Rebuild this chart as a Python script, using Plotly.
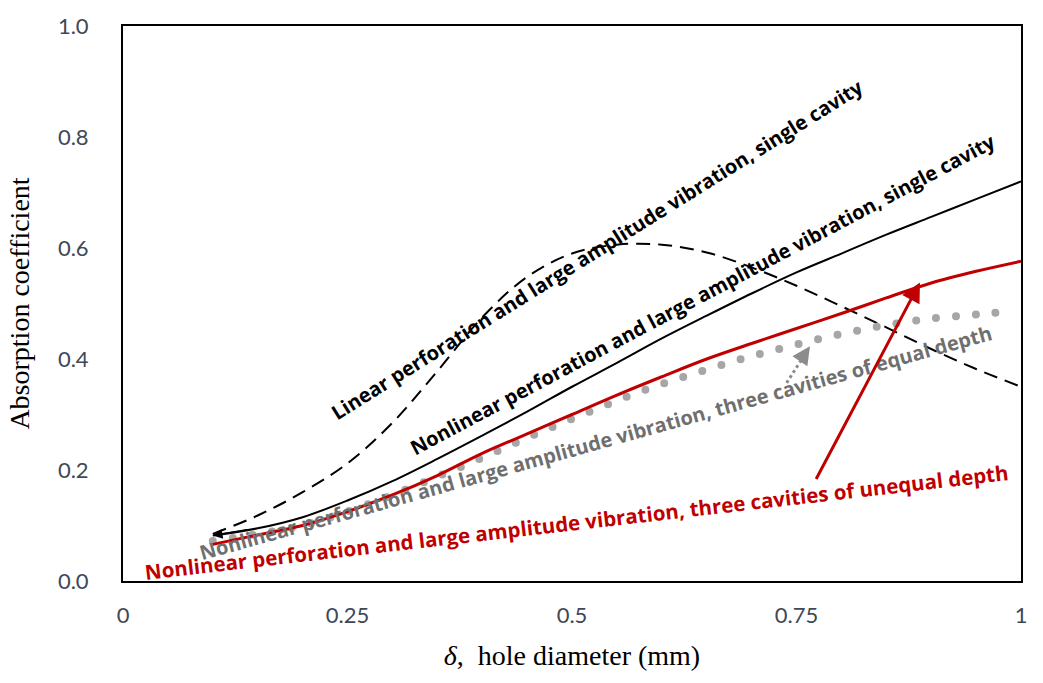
import plotly.graph_objects as go

# hole diameter (mm)
x_main = [0.1, 0.15, 0.2, 0.25, 0.3, 0.35, 0.4, 0.45, 0.5, 0.55, 0.6, 0.65,
          0.7, 0.75, 0.8, 0.85, 0.9, 0.95, 1.0]

# absorption coefficient for each configuration
linear_single = [0.085, 0.118, 0.16, 0.212, 0.285, 0.378, 0.475, 0.548, 0.59,
                 0.606, 0.606, 0.592, 0.565, 0.532, 0.495, 0.457, 0.418, 0.382, 0.35]
nonlinear_single = [0.082, 0.095, 0.115, 0.145, 0.18, 0.22, 0.262, 0.305, 0.35,
                    0.393, 0.437, 0.478, 0.518, 0.556, 0.59, 0.624, 0.656, 0.688, 0.72]
nonlinear_unequal = [0.066, 0.083, 0.10, 0.125, 0.155, 0.19, 0.23, 0.265, 0.30,
                     0.335, 0.368, 0.40, 0.428, 0.455, 0.482, 0.51, 0.537, 0.558, 0.576]

x_equal = [0.1, 0.15, 0.2, 0.25, 0.3, 0.35, 0.4, 0.45, 0.5, 0.55, 0.6, 0.65,
           0.7, 0.75, 0.8, 0.85, 0.9, 0.95, 0.98]
nonlinear_equal = [0.072, 0.085, 0.10, 0.125, 0.155, 0.188, 0.222, 0.258, 0.292,
                   0.325, 0.355, 0.381, 0.405, 0.426, 0.445, 0.461, 0.473, 0.48, 0.485]

x_ticks = [0, 0.25, 0.5, 0.75, 1]
x_tick_text = ["0", "0.25", "0.5", "0.75", "1"]
y_ticks = [0.0, 0.2, 0.4, 0.6, 0.8, 1.0]
y_tick_text = ["0.0", "0.2", "0.4", "0.6", "0.8", "1.0"]

RED = "#c00000"
GRAY_DOT = "#a6a6a6"
GRAY_TXT = "#6f6f6f"
TICK = "#404858"

fig = go.Figure()
fig.add_trace(go.Scatter(x=x_main, y=linear_single, mode="lines",
                         line=dict(color="black", width=2, dash="14px,8px", shape="spline"),
                         name="linear single"))
fig.add_trace(go.Scatter(x=x_main, y=nonlinear_single, mode="lines",
                         line=dict(color="black", width=2, shape="spline"),
                         name="nonlinear single"))
fig.add_trace(go.Scatter(x=x_equal, y=nonlinear_equal, mode="lines",
                         line=dict(color=GRAY_DOT, width=8, dash="0px,20px", shape="spline"),
                         name="nonlinear equal"))
fig.add_trace(go.Scatter(x=x_main, y=nonlinear_unequal, mode="lines",
                         line=dict(color=RED, width=3, shape="spline"),
                         name="nonlinear unequal"))

label_font = "'Open Sans', sans-serif"
tick_font = "Lato, 'Open Sans', sans-serif"


def rotated_label(text, x, y, angle, color, size=20):
    fig.add_annotation(
        x=x, y=y, xref="x", yref="y", text=f"<b>{text}</b>",
        showarrow=False, textangle=-angle,
        font=dict(family=label_font, size=size, color=color),
        xanchor="center", yanchor="middle")


rotated_label("Linear perforation and large amplitude vibration, single cavity",
              0.528, 0.597, 32, "black")
rotated_label("Nonlinear perforation and large amplitude vibration, single cavity",
              0.645, 0.517, 28, "black")
rotated_label("Nonlinear perforation and large amplitude vibration, three cavities of equal depth",
              0.527, 0.249, 15.6, GRAY_TXT)
rotated_label("Nonlinear perforation and large amplitude vibration, three cavities of unequal depth",
              0.505, 0.107, 6.6, RED, size=20.5)

# pointer arrows
fig.add_annotation(x=0.8875, y=0.538, ax=0.771, ay=0.181, xref="x", yref="y",
                   axref="x", ayref="y", text="", showarrow=True,
                   arrowhead=2, arrowsize=1.3, arrowwidth=3, arrowcolor=RED)
fig.add_shape(type="line", x0=0.739, y0=0.357, x1=0.760, y1=0.410, xref="x", yref="y",
              line=dict(color="#8c8c8c", width=3, dash="dot"))
fig.add_annotation(x=0.765, y=0.423, ax=0.755, ay=0.399, xref="x", yref="y",
                   axref="x", ayref="y", text="", showarrow=True,
                   arrowhead=2, arrowsize=1.2, arrowwidth=3, arrowcolor="#8c8c8c")
fig.add_annotation(x=0.1, y=0.082, ax=0.14, ay=0.093, xref="x", yref="y",
                   axref="x", ayref="y", text="", showarrow=True,
                   arrowhead=2, arrowsize=1.3, arrowwidth=1.5, arrowcolor="black")

axis_common = dict(showline=True, linecolor="black", linewidth=2, mirror=True,
                   showgrid=False, zeroline=False, ticks="",
                   tickfont=dict(family=tick_font, size=22, color=TICK))

fig.update_xaxes(range=[0, 1], tickvals=x_ticks, ticktext=x_tick_text,
                 ticklabelstandoff=14,
                 title=dict(text="<i>δ</i>,  hole diameter (mm)", standoff=18,
                            font=dict(family="Liberation Serif, serif", size=28, color="black")),
                 **axis_common)
fig.update_yaxes(range=[0, 1], tickvals=y_ticks, ticktext=y_tick_text,
                 ticklabelstandoff=28,
                 title=dict(text="Absorption coefficient", standoff=20,
                            font=dict(family="Liberation Serif, serif", size=28, color="black")),
                 **axis_common)

fig.update_layout(width=1043, height=683, showlegend=False,
                  margin=dict(l=123, r=22, t=18, b=102),
                  plot_bgcolor="white", paper_bgcolor="white")

round_dots = """
var gd = document.getElementById('{plot_id}');
var tr = gd.querySelectorAll('.scatterlayer .trace')[2];
if (tr) { tr.querySelectorAll('path.js-line').forEach(function(p){ p.style.strokeLinecap = 'round'; }); }
"""
fig.write_html("out.html", post_script=round_dots)
